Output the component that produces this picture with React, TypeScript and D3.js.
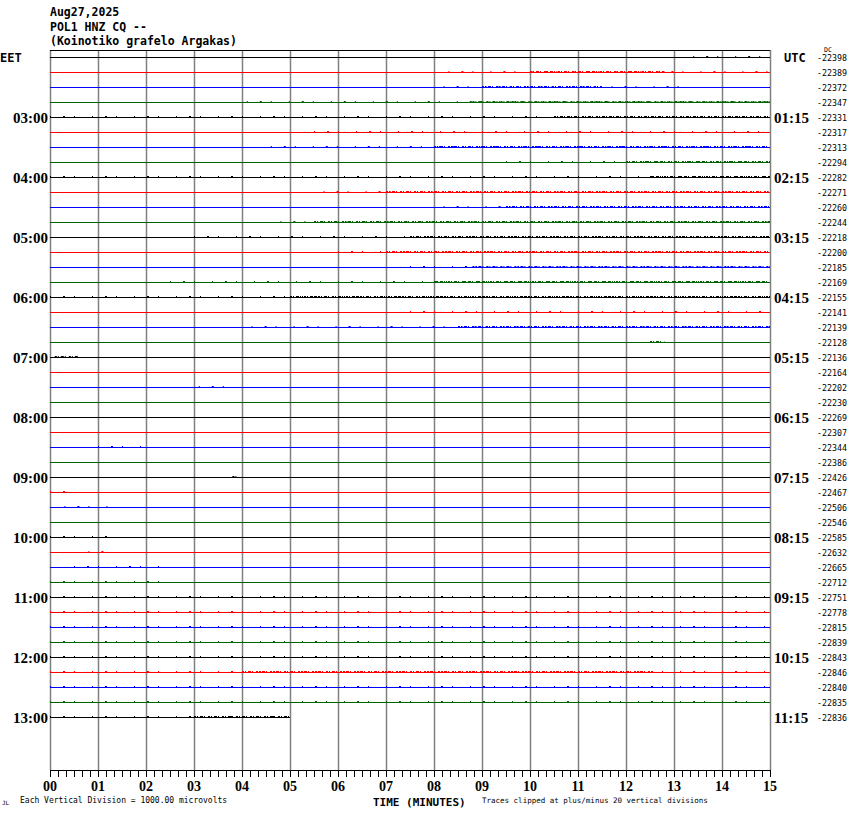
import * as d3 from "d3";

// helicorder POL1 HNZ CQ, 45 traces of 15 minutes
const headerLines = ["Aug27,2025", "POL1 HNZ CQ --", "(Koinotiko grafelo Argakas)"];
const traceColors = ["#000000", "#ff0000", "#0000ff", "#006400"];
const leftHours = ["03:00", "04:00", "05:00", "06:00", "07:00", "08:00", "09:00", "10:00", "11:00", "12:00", "13:00"];
const rightHours = ["01:15", "02:15", "03:15", "04:15", "05:15", "06:15", "07:15", "08:15", "09:15", "10:15", "11:15"];
const offsets = [
    -22398, -22389, -22372, -22347, -22331, -22317, -22313, -22294, -22282, -22271,
    -22260, -22244, -22218, -22200, -22185, -22169, -22155, -22141, -22139, -22128,
    -22136, -22164, -22202, -22230, -22269, -22307, -22344, -22386, -22426, -22467,
    -22506, -22546, -22585, -22632, -22665, -22712, -22751, -22778, -22815, -22839,
    -22843, -22846, -22840, -22835, -22836,
];
const minuteLabels = ["00", "01", "02", "03", "04", "05", "06", "07", "08", "09", "10", "11", "12", "13", "14", "15"];
const lastTraceEnd = 5; // minutes recorded in the last line

// noisy stretches: [trace, from min, to min, level 1 sparse / 2 dense]
const noise: [number, number, number, number][] = [
    [0, 13.4, 15, 1],
    [1, 8.3, 15, 1], [1, 10, 12.8, 2],
    [2, 8.2, 13.3, 1], [2, 9, 11.5, 2],
    [3, 4.1, 15, 1], [3, 8.8, 15, 2],
    [4, 0, 15, 1], [4, 10.5, 15, 2],
    [5, 5.5, 15, 1],
    [6, 4.6, 15, 1], [6, 8, 15, 2],
    [7, 9.5, 15, 1], [7, 12, 15, 2],
    [8, 0, 15, 1], [8, 12.5, 15, 2],
    [9, 5.7, 15, 1], [9, 7, 15, 2],
    [10, 8.2, 15, 1], [10, 9.5, 15, 2],
    [11, 4.8, 15, 1], [11, 5.5, 15, 2],
    [12, 3, 15, 1], [12, 7.5, 15, 2],
    [13, 6, 15, 1], [13, 7, 15, 2],
    [14, 7.5, 15, 1], [14, 8.8, 15, 2],
    [15, 2.5, 15, 1], [15, 8, 15, 2],
    [16, 0, 15, 1], [16, 5, 15, 2],
    [17, 7.5, 15, 1],
    [18, 4.2, 15, 1], [18, 8.5, 15, 2],
    [19, 12.5, 12.8, 2],
    [20, 0.1, 0.6, 2],
    [22, 3.1, 3.9, 1],
    [26, 1, 2, 1],
    [28, 3.8, 3.9, 2],
    [29, 0, 0.4, 1],
    [30, 0.3, 1.4, 1],
    [32, 0, 1.2, 1],
    [33, 0.8, 1.3, 1],
    [34, 0.5, 2.3, 1],
    [35, 0, 2.4, 1],
    [36, 0, 15, 1],
    [37, 0, 15, 1],
    [38, 0, 15, 1],
    [39, 0, 15, 1],
    [40, 0, 15, 1],
    [41, 0, 15, 1], [41, 4, 12.5, 2],
    [42, 0, 15, 1],
    [43, 0, 15, 1],
    [44, 0, 5, 1], [44, 3, 5, 2],
];

export default function App() {
    const width = 850;
    const height = 814;
    const plotTop = 50;
    const plotBottom = 770;
    const x = d3.scaleLinear().domain([0, 15]).range([50, 770]);
    const y = d3.scaleLinear().domain([0, offsets.length - 1]).range([57.5, 57.5 + 15 * (offsets.length - 1)]);
    const minorTicks = d3.range(0, 15 + 1e-9, 1 / 6);
    const mono = "'DejaVu Sans Mono', monospace";
    const serif = "'Liberation Serif', serif";

    return (
        <div style={{ position: "absolute", left: 0, top: 0 }}>
            <svg width={width} height={height} style={{ display: "block", background: "#fff" }}>
                {headerLines.map((t, i) => (
                    <text key={t} x={50} y={16 + i * 14.5} fontFamily={mono} fontWeight="bold" fontSize="11.5" fill="#000">
                        {t}
                    </text>
                ))}

                {/* minute grid */}
                {minuteLabels.map((m, i) => (
                    <line key={"g" + m} x1={x(i) + 0.5} x2={x(i) + 0.5} y1={plotTop} y2={plotBottom} stroke="#808080" strokeWidth="1.5" />
                ))}
                <line x1={x(0)} x2={x(15)} y1={plotTop + 0.5} y2={plotTop + 0.5} stroke="#000" />

                {/* traces */}
                {offsets.map((v, i) => (
                    <line
                        key={"t" + i}
                        x1={x(0)}
                        x2={x(i === offsets.length - 1 ? lastTraceEnd : 15)}
                        y1={y(i)}
                        y2={y(i)}
                        stroke={traceColors[i % 4]}
                        strokeWidth="1"
                    />
                ))}
                {noise.map(([t, a, b, lvl], k) => (
                    <line
                        key={"n" + k}
                        x1={x(a)}
                        x2={x(b)}
                        y1={y(t) - 0.5}
                        y2={y(t) - 0.5}
                        stroke={traceColors[t % 4]}
                        strokeWidth={2}
                        strokeDasharray={lvl === 2 ? "2 1 1 2 3 1 1 3" : "1 12 2 9 1 17"}
                    />
                ))}

                {/* hour labels */}
                {leftHours.map((h, i) => (
                    <text key={h} x={48} y={y(4 + i * 4) + 5} textAnchor="end" fontFamily={serif} fontWeight="bold" fontSize="15" fill="#000">
                        {h}
                    </text>
                ))}
                {rightHours.map((h, i) => (
                    <text key={h} x={774} y={y(4 + i * 4) + 5} fontFamily={serif} fontWeight="bold" fontSize="15" fill="#000">
                        {h}
                    </text>
                ))}
                <text x={0} y={62} fontFamily={mono} fontWeight="bold" fontSize="12" fill="#000">EET</text>
                <text x={784} y={62} fontFamily={mono} fontWeight="bold" fontSize="12" fill="#000">UTC</text>
                <text x={824} y={52} fontFamily={mono} fontSize="6.5" fill="#000">DC</text>
                {offsets.map((v, i) => (
                    <text key={"o" + i} x={847} y={y(i) + 3} textAnchor="end" fontFamily={mono} fontSize="8.3" fill="#000">
                        {v}
                    </text>
                ))}

                {/* time axis */}
                <line x1={x(0)} x2={x(15)} y1={plotBottom + 0.5} y2={plotBottom + 0.5} stroke="#000" />
                {minorTicks.map((m, i) => (
                    <line key={"k" + i} x1={Math.round(x(m)) + 0.5} x2={Math.round(x(m)) + 0.5} y1={plotBottom} y2={plotBottom + 7} stroke="#000" />
                ))}
                {minuteLabels.map((m, i) => (
                    <text key={"l" + m} x={x(i)} y={791} textAnchor="middle" fontFamily={serif} fontWeight="bold" fontSize="14" fill="#000">
                        {m}
                    </text>
                ))}
                <text x={373} y={806} fontFamily={mono} fontWeight="bold" fontSize="11" fill="#000">TIME (MINUTES)</text>
                <text x={20} y={803} fontFamily={mono} fontSize="8" fill="#000">Each Vertical Division = 1000.00 microvolts</text>
                <text x={482} y={803} fontFamily={mono} fontSize="7.5" fill="#000">Traces clipped at plus/minus 20 vertical divisions</text>
                <text x={2} y={805} fontFamily={mono} fontSize="6" fill="#000">JL</text>
            </svg>
        </div>
    );
}
